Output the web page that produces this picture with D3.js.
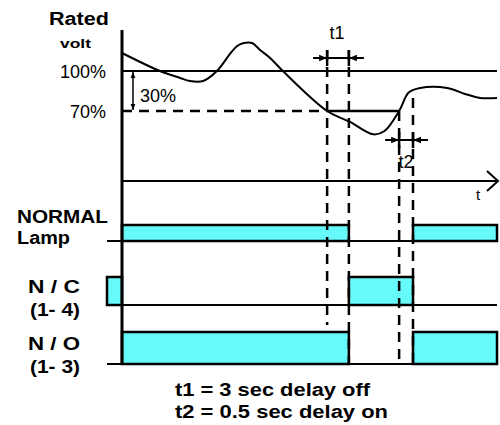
<!DOCTYPE html>
<html>
<head>
<meta charset="utf-8">
<script src="https://cdn.jsdelivr.net/npm/d3@7"></script>
<style>
body { margin: 0; background: #fff; }
svg { display: block; }
text { font-family: "Liberation Sans", Arial, sans-serif; fill: #000; }
</style>
</head>
<body>
<svg id="chart" width="500" height="425"></svg>
<script>
// voltage curve (time units 0..100, volt in % of rated)
var voltTime  = [0, 10.1, 15.5, 18.1, 21.6, 25.3, 28.8, 30.7, 32.5, 34.7, 36.8, 39.5, 42.9, 54.7, 60.8, 67, 70, 73.9, 76.5, 79.5, 86.7, 91.5, 95.5, 100];
var voltValue = [113.5, 100, 94.8, 92.5, 92.5, 100, 112.8, 118.7, 121, 121, 115.8, 109.8, 100, 70, 61.8, 52.5, 55, 70, 84, 87.3, 87.3, 82.8, 79.8, 79.8];

var levels = [100, 70];
var levelLabels = ["100%", "70%"];

// event times: t1 start, t1 end, t2 start, t2 end
var eventTimes = [54.7, 60.5, 73.9, 77.6];

var rowNames = [["NORMAL", "Lamp"], ["N / C", "(1- 4)"], ["N / O", "(1- 3)"]];
var lampOn = [[0, 60.5], [77.6, 100]];
var ncOn = [[-4, 0], [60.5, 77.6]];
var noOn = [[0, 60.5], [77.6, 100]];
var rowStates = [lampOn, ncOn, noOn];

var notes = ["t1 = 3 sec delay off", "t2 = 0.5 sec delay on"];

var svg = d3.select("#chart");
var x = d3.scaleLinear().domain([0, 100]).range([122, 497]);
var y = d3.scaleLinear().domain([70, 100]).range([111, 71]);

var defs = svg.append("defs");
defs.append("marker").attr("id", "ah")
	.attr("viewBox", "0 0 10 10").attr("refX", 10).attr("refY", 5)
	.attr("markerWidth", 4).attr("markerHeight", 4).attr("orient", "auto-start-reverse")
	.attr("markerUnits", "strokeWidth")
	.append("path").attr("d", "M0,1 L10,5 L0,9 Z").attr("fill", "#000");

// rows layout
var rowBase = [241, 305, 364];
var rowTop = [225, 277, 332];

// boxes
rowStates.forEach(function(st, i) {
	svg.selectAll(null).data(st).enter().append("rect")
		.attr("x", d => x(d[0]))
		.attr("y", rowTop[i])
		.attr("width", d => x(d[1]) - x(d[0]))
		.attr("height", rowBase[i] - rowTop[i])
		.attr("fill", "#66fafa")
		.attr("stroke", "#000")
		.attr("stroke-width", 2.5);
	svg.append("line")
		.attr("x1", x(-4)).attr("x2", x(100))
		.attr("y1", rowBase[i]).attr("y2", rowBase[i])
		.attr("stroke", "#000").attr("stroke-width", 2);
});

// level lines
svg.append("line").attr("x1", x(0)).attr("x2", x(100))
	.attr("y1", y(levels[0])).attr("y2", y(levels[0]))
	.attr("stroke", "#000").attr("stroke-width", 2);
svg.append("line").attr("x1", x(0)).attr("x2", x(eventTimes[0]))
	.attr("y1", y(levels[1])).attr("y2", y(levels[1]))
	.attr("stroke", "#000").attr("stroke-width", 2.5).attr("stroke-dasharray", "10,7");
svg.append("line").attr("x1", x(eventTimes[0])).attr("x2", x(eventTimes[2]))
	.attr("y1", y(levels[1])).attr("y2", y(levels[1]))
	.attr("stroke", "#000").attr("stroke-width", 2.5);

svg.selectAll(null).data(levels).enter().append("text")
	.attr("x", 106).attr("y", (d, i) => y(d) + 7)
	.attr("text-anchor", "end")
	.style("font-size", "18px")
	.text((d, i) => levelLabels[i]);

// 30% arrow
svg.append("line").attr("x1", 133).attr("x2", 133)
	.attr("y1", y(levels[0]) + 1).attr("y2", y(levels[1]) - 1)
	.attr("stroke", "#000").attr("stroke-width", 1.5)
	.attr("marker-start", "url(#ah)").attr("marker-end", "url(#ah)");
svg.append("text").attr("x", 140).attr("y", 102)
	.style("font-size", "18px").text((levels[0] - levels[1]) + "%");

// voltage curve
var line = d3.line().x((d, i) => x(voltTime[i])).y(d => y(d)).curve(d3.curveCatmullRom.alpha(0.5));
svg.append("path").datum(voltValue)
	.attr("d", line)
	.attr("fill", "none").attr("stroke", "#000").attr("stroke-width", 2);

// time axis
svg.append("line").attr("x1", x(0)).attr("x2", x(100))
	.attr("y1", 181).attr("y2", 181)
	.attr("stroke", "#000").attr("stroke-width", 2);
svg.append("path").attr("d", "M" + (x(100) - 10) + ",171 L" + (x(100) + 1) + ",181 L" + (x(100) - 10) + ",191")
	.attr("fill", "none").attr("stroke", "#000").attr("stroke-width", 2);
svg.append("text").attr("x", 476).attr("y", 200).style("font-size", "15px").text("t");

// event vertical lines
var vTop = [50, 50, y(levels[1]), 98];
var vBot = [325, 364, 362, 364];
eventTimes.forEach(function(t, i) {
	svg.append("line").attr("x1", x(t)).attr("x2", x(t))
		.attr("y1", vTop[i]).attr("y2", vBot[i])
		.attr("stroke", "#000").attr("stroke-width", 2.5).attr("stroke-dasharray", "10,7");
});
// solid ticks at the interval arrows
var arrowY = [58, 140];
eventTimes.forEach(function(t, i) {
	var ay = arrowY[Math.floor(i / 2)];
	svg.append("line").attr("x1", x(t)).attr("x2", x(t))
		.attr("y1", ay - 8).attr("y2", ay + 8)
		.attr("stroke", "#000").attr("stroke-width", 2.5);
});
// interval arrows t1, t2
[0, 1].forEach(function(k) {
	var a = x(eventTimes[2 * k]), b = x(eventTimes[2 * k + 1]), ay = arrowY[k];
	svg.append("line").attr("x1", a).attr("x2", b).attr("y1", ay).attr("y2", ay)
		.attr("stroke", "#000").attr("stroke-width", 2);
	svg.append("line").attr("x1", a - 14).attr("x2", a).attr("y1", ay).attr("y2", ay)
		.attr("stroke", "#000").attr("stroke-width", 2).attr("marker-end", "url(#ah)");
	svg.append("line").attr("x1", b + 15).attr("x2", b).attr("y1", ay).attr("y2", ay)
		.attr("stroke", "#000").attr("stroke-width", 2).attr("marker-end", "url(#ah)");
});
svg.append("text").attr("x", (x(eventTimes[0]) + x(eventTimes[1])) / 2 - 1).attr("y", 39)
	.attr("text-anchor", "middle").style("font-size", "18px").text("t1");
svg.append("text").attr("x", (x(eventTimes[2]) + x(eventTimes[3])) / 2).attr("y", 168)
	.attr("text-anchor", "middle").style("font-size", "18px").text("t2");

// vertical axis
svg.append("line").attr("x1", x(0)).attr("x2", x(0))
	.attr("y1", 30).attr("y2", 365)
	.attr("stroke", "#000").attr("stroke-width", 3);

// title labels
svg.append("text").attr("x", 49).attr("y", 25).attr("textLength", 60).attr("lengthAdjust", "spacingAndGlyphs")
	.style("font-size", "18px").style("font-weight", "bold").text("Rated");
svg.append("text").attr("x", 60).attr("y", 48).attr("textLength", 31).attr("lengthAdjust", "spacingAndGlyphs")
	.style("font-size", "13px").style("font-weight", "bold").text("volt");

// row labels
var labY = [[223, 244], [293, 316], [350, 373]];
var labX = [[17, 17], [28, 30], [28, 30]];
var labW = [[91, 53], [52, 50], [52, 50]];
rowNames.forEach(function(nm, i) {
	nm.forEach(function(s, j) {
		svg.append("text").attr("x", labX[i][j]).attr("y", labY[i][j])
			.attr("textLength", labW[i][j]).attr("lengthAdjust", "spacingAndGlyphs")
			.style("font-size", "18px").style("font-weight", "bold").text(s);
	});
});

// notes
svg.selectAll(null).data(notes).enter().append("text")
	.attr("x", 175).attr("y", (d, i) => 396 + i * 22)
	.attr("textLength", (d, i) => i == 0 ? 195 : 213).attr("lengthAdjust", "spacingAndGlyphs")
	.style("font-size", "18px").style("font-weight", "bold").text(d => d);
</script>
</body>
</html>
